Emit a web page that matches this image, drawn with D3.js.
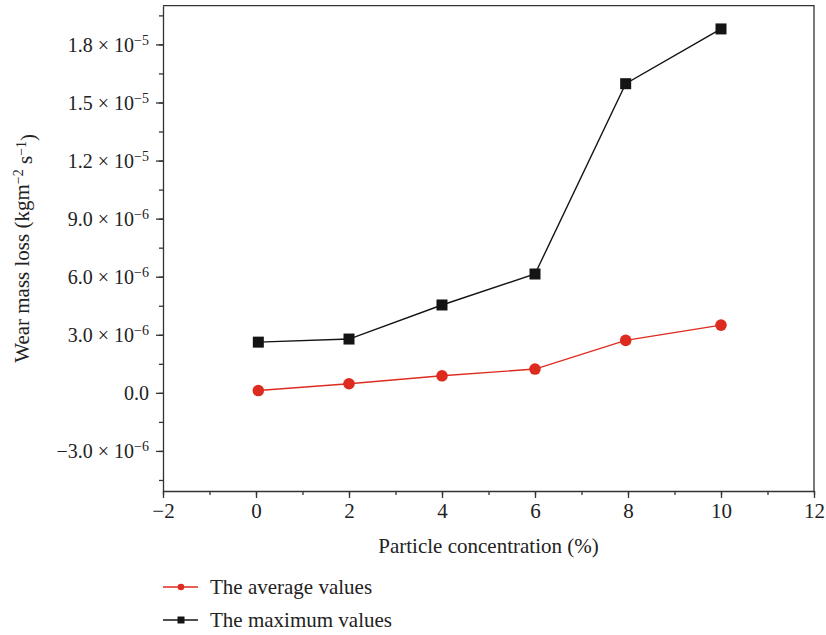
<!DOCTYPE html>
<html>
<head>
<meta charset="utf-8">
<script src="https://cdn.jsdelivr.net/npm/d3@7"></script>
<style>
  body { margin: 0; background: #fff; }
  svg { font-family: "Liberation Serif", "DejaVu Serif", serif; }
</style>
</head>
<body>
<div id="wrapper"></div>
<script>
const concentration = [0.05, 2, 4, 6, 7.95, 10]
const averageValues = [0.12e-6, 0.47e-6, 0.88e-6, 1.23e-6, 2.71e-6, 3.5e-6]
const maximumValues = [2.62e-6, 2.78e-6, 4.54e-6, 6.14e-6, 15.97e-6, 18.8e-6]
const xTicks = [-2, 0, 2, 4, 6, 8, 10, 12]
const yTicks = [-3e-6, 0, 3e-6, 6e-6, 9e-6, 1.2e-5, 1.5e-5, 1.8e-5]
const yTickLabels = [["−3.0", "−6"], ["0.0", null], ["3.0", "−6"], ["6.0", "−6"], ["9.0", "−6"], ["1.2", "−5"], ["1.5", "−5"], ["1.8", "−5"]]
const seriesNames = ["The average values", "The maximum values"]

const dimensions = {
    width: 826,
    height: 635,
    margin: {top: 5.7, right: 12, bottom: 144, left: 163},
}
dimensions.boundedWidth = dimensions.width - dimensions.margin.left - dimensions.margin.right
dimensions.boundedHeight = dimensions.height - dimensions.margin.top - dimensions.margin.bottom

const red = "#de2b1f"
const black = "#141414"
const axisColor = "#333"
const fontFamily = '"Liberation Serif", "DejaVu Serif", serif'

const svg = d3.select("#wrapper").append("svg")
    .attr("width", dimensions.width)
    .attr("height", dimensions.height)
const bounds = svg.append("g")
    .attr("transform", `translate(${dimensions.margin.left},${dimensions.margin.top})`)

const xScale = d3.scaleLinear().domain([-2, 12]).range([0, dimensions.boundedWidth])
const yScale = d3.scaleLinear().domain([-5.07e-6, 2.0e-5]).range([dimensions.boundedHeight, 0])

// minor ticks
const xMinor = d3.range(-2, 12.01, 1)
const yMinor = d3.range(-4.5e-6, 1.96e-5, 1.5e-6)

bounds.append("g")
    .attr("transform", `translate(0,${dimensions.boundedHeight})`)
    .call(d3.axisBottom(xScale).tickValues(xMinor).tickSize(4).tickFormat(""))
    .call(g => g.select(".domain").remove())
bounds.append("g")
    .call(d3.axisLeft(yScale).tickValues(yMinor).tickSize(4).tickFormat(""))
    .call(g => g.select(".domain").remove())

// major axes
const xAxis = bounds.append("g")
    .attr("transform", `translate(0,${dimensions.boundedHeight})`)
    .call(d3.axisBottom(xScale).tickValues(xTicks).tickSize(7).tickSizeOuter(0).tickPadding(5)
        .tickFormat(d => d < 0 ? "−" + Math.abs(d) : d))
    .attr("font-family", fontFamily)
xAxis.selectAll("text").attr("font-size", 21).attr("fill", "#222")

const yAxis = bounds.append("g")
    .call(d3.axisLeft(yScale).tickValues(yTicks).tickSize(7).tickSizeOuter(0).tickPadding(7).tickFormat(""))
    .attr("font-family", fontFamily)
yAxis.selectAll(".tick").each(function(d, i) {
    const [mant, exp] = yTickLabels[i]
    const t = d3.select(this).select("text")
        .attr("font-size", 20).attr("fill", "#222").attr("dy", "0.35em")
    if (exp) {
        t.append("tspan").text(mant + " × 10")
        t.append("tspan").attr("dy", "-0.5em").attr("font-size", 14).text(exp)
    } else {
        t.text(mant)
    }
})

svg.selectAll(".domain, .tick line").attr("stroke", axisColor).attr("stroke-width", 1.3)

// frame top and right
bounds.append("path")
    .attr("d", `M0,0H${dimensions.boundedWidth}V${dimensions.boundedHeight}`)
    .attr("fill", "none").attr("stroke", axisColor).attr("stroke-width", 1.3)

// axis titles
svg.append("text")
    .attr("x", dimensions.margin.left + dimensions.boundedWidth / 2)
    .attr("y", 553)
    .attr("text-anchor", "middle").attr("font-size", 21).attr("fill", "#222")
    .text("Particle concentration (%)")

const yTitle = svg.append("text")
    .attr("transform", `translate(29,${dimensions.margin.top + dimensions.boundedHeight / 2}) rotate(-90)`)
    .attr("text-anchor", "middle").attr("font-size", 21).attr("fill", "#222")
yTitle.append("tspan").text("Wear mass loss (kgm")
yTitle.append("tspan").attr("dy", "-0.45em").attr("font-size", 14).text("−2")
yTitle.append("tspan").attr("dy", "0.45em").text(" s")
yTitle.append("tspan").attr("dy", "-0.45em").attr("font-size", 14).text("−1")
yTitle.append("tspan").attr("dy", "0.45em").text(")")

// series
const line = d3.line().x(d => xScale(d[0])).y(d => yScale(d[1]))
const avgData = d3.zip(concentration, averageValues)
const maxData = d3.zip(concentration, maximumValues)

bounds.append("path").attr("d", line(avgData))
    .attr("fill", "none").attr("stroke", red).attr("stroke-width", 1.4)
bounds.append("path").attr("d", line(maxData))
    .attr("fill", "none").attr("stroke", black).attr("stroke-width", 1.4)

bounds.selectAll(".avg").data(avgData).join("circle")
    .attr("cx", d => xScale(d[0])).attr("cy", d => yScale(d[1]))
    .attr("r", 5.8).attr("fill", red)
bounds.selectAll(".max").data(maxData).join("rect")
    .attr("x", d => xScale(d[0]) - 5.5).attr("y", d => yScale(d[1]) - 5.5)
    .attr("width", 11).attr("height", 11).attr("fill", black)

// legend
const legend = svg.append("g").attr("transform", "translate(163,587)")
seriesNames.forEach((name, i) => {
    const g = legend.append("g").attr("transform", `translate(0,${i * 33})`)
    const c = i === 0 ? red : black
    g.append("line").attr("x1", 0).attr("x2", 35).attr("stroke", c).attr("stroke-width", 1.4)
    if (i === 0) g.append("circle").attr("cx", 18).attr("r", 3.3).attr("fill", c)
    else g.append("rect").attr("x", 14.5).attr("y", -3.5).attr("width", 7).attr("height", 7).attr("fill", c)
    g.append("text").attr("x", 47).attr("dy", "0.33em").attr("font-size", 21).attr("fill", "#222").text(name)
})
</script>
</body>
</html>
